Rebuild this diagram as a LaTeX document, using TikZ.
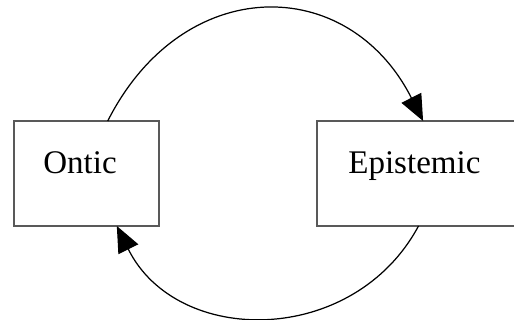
\documentclass[tikz,border=0pt]{standalone}
\usepackage{fontspec}
\setmainfont{Liberation Serif}
\usetikzlibrary{arrows.meta}

\begin{document}
\begin{tikzpicture}[x=0.02cm, y=-0.02cm,
  box/.style={draw=black!65, line width=1.1pt, minimum height=105*0.02cm, outer sep=0pt, inner sep=0pt},
  word/.style={anchor=base west, inner sep=0pt, font=\fontsize{18.8}{22}\selectfont},
  loop/.style={line width=0.7pt, -{Triangle[length=0.52cm, width=0.44cm]}}]
\useasboundingbox (0,0) rectangle (514,320);
\clip (0,0) rectangle (514,320);
\node[box, minimum width=145*0.02cm] (ontic) at (86.5,173.5) {};
\node[box, minimum width=203*0.02cm] (epistemic) at (418.5,173.5) {};
\node[word] (onticlabel) at (43,174) {Ontic};
\node[word] (epistemiclabel) at (348,174) {Epistemic};

\draw[loop] (ontic.68) .. controls +(75,-148) and +(-75,-148) .. (epistemic.85);
\draw[loop] (epistemic.270) .. controls +(-65,121) and +(60,121) .. (ontic.300);
\end{tikzpicture}
\end{document}
